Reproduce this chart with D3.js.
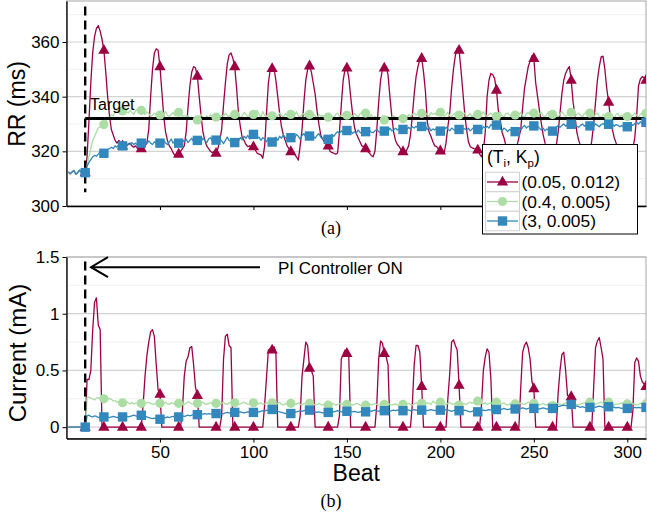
<!DOCTYPE html>
<html><head><meta charset="utf-8">
<script src="https://cdn.jsdelivr.net/npm/d3@7"></script>
<style>
body{margin:0;background:#fff}
</style>
</head><body>
<svg id="c" width="647" height="520" font-family="'Liberation Sans', Arial, Helvetica, sans-serif"></svg>
<script>
// ---------------- data ----------------
const beats = d3.range(1, 311); // beat index 1..310
const markerBeats = [10,20,30,40,50,60,70,80,90,100,110,120,130,140,150,160,170,180,190,200,210,220,230,240,250,260,270,280,290,300,310];
const seriesNames = ["(0.05, 0.012)", "(0.4, 0.005)", "(3, 0.005)"];
const seriesColors = ["#9E0142", "#ABDDA4", "#3288BD"];
const xTicks = [50,100,150,200,250,300];
const rrTicks = [300,320,340,360];
const rrMinor = [310,330,350,370];
const curTicks = [0,0.5,1,1.5];
const curTickLabels = ["0","0.5","1","1.5"];
const curMinor = [0.25,0.75,1.25];
const targetRR = 332;
const controllerOnBeat = 10;

const rrRed = [312.5,311.8,312.4,313.0,311.6,312.2,313.1,312.0,311.5,312.2,
318,331,345,356,362,365,366,364,361,357,
349,340,333,328,326,324,323,324,323,322,
323,322,322.5,323,322,321.5,322,321,321.5,321,
321,322,323,328,340,350,356,357.5,357,351,
342,333,327,324,322,321,319.5,318.5,319,319,
320,321,322,327,336,344,349,351,350.5,347.5,
340,333,327,324,322,321,320,319.5,320,319.3,
321,324,328,337,345,352,355.3,356,354,351,
343,334,329,325,324,322.5,321.7,322,321.5,321.7,
320.5,319.3,319,318.7,317.5,322,334,345,350,350.3,
350.4,346,340,334,329,326,324,322,321,319.9,
319.5,319,318,316.8,322,328,338,346,350,351.3,
349,345,341,335,330,326,324.5,323.5,322.5,322,
320,319.5,319.3,319,319.3,327,337,346,350,350.5,
347,340,334,329,326.5,325,323.5,322,321.7,321,
320,319.4,318.5,318,320,328,338,346,350,350.5,
351,348,340,333,327,324,322.5,321.7,320.5,319.9,
319,320.5,322,326,333,341,347.3,351,353.5,354,
349,342,331,327,325.4,323.5,322,321.7,320.8,320.2,
319.5,319.3,323,329,334,343,350,355,357.7,357,
350,342,334,328,323.5,321.7,321.3,321,320.8,320.5,
319,318,320,327,340,346,348.5,348,346.7,342.4,
335,331.5,327,325,322.3,320,318.5,318,318.5,320,
322,325,328,336,343,347,351,353,355,354,
345,340,335,330.3,326,323,321,319.5,318.5,318,
319,322,327,334,341,346,348.5,350,351,346,
338,333,327,324,322,320,319,318.5,318.5,319,
324,330,338,346,351,354.6,354.8,350,343,338,
332,328,325,323,321,319.5,318.5,318,318,318.5,
319.5,320,321,325,333,344,346.5,347.3,347,346];

const rrGreen = [312.5,311.8,312.4,313.0,311.6,312.2,313.1,312.0,311.5,312.2,
315,318,321,324,325.5,327,328.5,329,329.5,329.8,
331,332.5,332,333.5,333,334.5,335,334.5,335.2,334.8,
335.5,334.5,334,335,334.2,333.5,334.8,335.3,334.5,335,
334.2,333.5,334.5,333.8,332.8,333.2,334,333.5,332.8,333.3,
332.5,333.8,334.5,333.2,332.8,333.5,334.2,333,333.8,334.3,
333.5,332.8,333.2,332.5,333,331.8,332.5,331.5,332.2,331.5,
332.8,333.5,332.5,331.8,333,332.2,333.5,332.8,333.2,332.5,
333.8,332.5,333.2,332.8,334,333.2,332.5,333.8,333,333.5,
332.8,333.5,332.2,333,334.2,333.5,332.8,333.2,334,333.5,
333,335,333.5,332.5,334.5,333.2,332.8,333.8,332.5,333,
333.5,332.2,333,334,333.2,332.5,333.8,333.2,334,333.5,
332.8,333.2,334.5,333,332.5,333.5,333.8,332.8,333.2,333.5,
332.5,333.8,333,332.2,333.5,332.8,333.2,332,332.8,332.5,
333.5,332.8,332.2,333.5,334,332.8,333.2,333.5,332.5,333.2,
332.5,333.5,332.8,333.8,333.2,332.5,333.8,334.2,333.2,334,
333.2,332.5,333.5,332,332.8,331.8,332.5,331.5,332.2,331.5,
332.2,332.8,331.8,332.5,333,332.2,331.5,332.5,331.8,332,
332.8,332.2,333.5,332.8,333.5,334,333.2,333.8,334.5,333.9,
333.2,334,333.5,332.8,334.2,333.5,334,333.2,334.8,334.3,
333.5,332.8,333.5,334.2,333,332.8,333.5,334,333.2,333.3,
332.8,333.5,334,332.5,333.2,333.8,332.5,333.5,334.2,333.5,
332.8,333.5,334.5,333.2,332.8,333.5,334,333.2,332.5,332.8,
333.5,334.2,333,332.5,333.8,334,333.2,332.8,333.5,333.3,
332.8,333.5,334.2,333,332.5,333.8,334.2,333.5,334,334,
333.2,332.5,333.8,334.2,333,332.8,333.5,334.5,333.2,333.5,
334,333.2,332.5,333.8,334.5,333.5,332.8,333.5,334.5,334.3,
333.5,332.8,333.5,334,333.2,332.5,333.8,334.2,333.5,334,
333.2,332.5,333.5,334,333,332.2,333.5,333,332.5,332.7,
333.5,332.8,332.2,333.5,333.8,332.5,333.2,332.5,333,332.7,
333.5,332.8,333.2,334,333.2,332.5,333.5,334,333.5,333.9];

const rrBlue = [312.5,311.8,312.4,313.0,311.6,312.2,313.1,312.0,311.5,312.2,
314.5,316,317,318,318.5,318.2,319,320,319.5,319.3,
320,320.5,321,321.5,321,322,321.5,322.5,322,322,
322.5,321.8,322.8,322.5,323.2,322.5,323,322.2,323.5,323,
322.5,323.5,322.8,323.8,323,322.5,323.5,323,322.5,323,
323.5,324,323,322.5,323.5,324.5,323,323.8,324,323,
323.5,324.2,323.5,324.5,323.2,324,324.8,323.5,324.5,324,
324.5,323.5,324.8,324,323.2,324.5,325,323.8,324.5,324.1,
323.5,324.5,323.8,322.8,324,325.2,324,323.5,324.2,323.2,
324.5,323.8,325,324.2,325.5,324.8,325.8,324.5,325.5,326.2,
325.5,324.8,325.2,324,325,324.5,323.5,325,324,323.4,
324.5,325.2,324,325.5,324.8,326,325.2,324.5,325.5,325,
325.8,324.8,326.2,325.5,324.5,325.8,326.5,325.2,326,325.6,
326.2,325.5,324.8,325.8,326.5,325.2,324.5,325.5,324.8,324.4,
325.5,326.2,325.5,326.5,327.2,326.5,327.5,326.8,327.2,327.6,
326.8,327.5,326.5,327.2,326.5,327.8,327,326.5,327.5,327.2,
326.5,327.8,327,326.8,327.5,328,327.2,326.8,327.8,327.4,
328,327.2,328.5,327.5,327.8,328.5,327.8,328.2,327.5,328,
328.5,327.8,328.8,328.2,329,328.5,329.2,328.5,329.5,329.1,
328.5,329.2,328,328.8,327.5,328.2,327.8,328.5,327.5,327.4,
328.2,327.8,328.8,328.2,327.5,328.5,328,327.5,328.5,328,
327.5,328.5,328.2,327.8,328.5,327.5,328.2,328.8,328,328,
328.5,327.8,329,328.5,329.2,328.5,329.8,329.2,330,329.6,
328.8,328.2,327.5,328.5,328,327.2,328,327.5,326.8,327.2,
328,328.5,327.8,328.8,329.5,328.5,329.2,328.8,329.5,329.3,
328.5,329.2,328.5,327.8,328.5,327.5,328.2,327.5,328,327.4,
328.2,328.8,329.5,328.8,329.5,330,329.2,329.8,330.2,329.9,
329.5,330,329.2,328.8,329.5,330,329.2,329.8,329.5,329.3,
329.8,329.2,330,329.5,329,329.8,330.2,329.5,330,329.9,
329.5,330,329.2,329.8,329.5,329,329.5,328.8,329.2,329,
329.5,330,329.5,330.2,330.5,330,330.8,330.2,330.5,330.6];

const curRed = [0,0,0,0,0,0,0,0,0,0,
0.42,0.42,0.5,0.85,1.1,1.14,0.9,0.86,0,0,
0,0,0,0,0,0,0,0,0,0,
0,0,0,0,0,0,0,0,0,0,
0.2,0.45,0.63,0.75,0.84,0.86,0.8,0.55,0.33,0.29,
0,0,0,0,0,0,0,0,0,0,
0,0.15,0.45,0.58,0.62,0.7,0.71,0.55,0.35,0.28,
0,0,0,0,0,0,0,0,0,0,
0,0,0.1,0.6,0.8,0.82,0.72,0.7,0,0,
0,0,0,0,0,0,0,0,0,0,
0,0,0,0,0,0.2,0.44,0.68,0.69,0.68,
0.71,0.66,0,0,0,0,0,0,0,0,
0,0,0,0,0.1,0.45,0.6,0.75,0.72,0.52,
0.5,0.45,0,0,0,0,0,0,0,0,
0,0,0,0,0,0.1,0.6,0.64,0.68,0.65,
0.62,0,0,0,0,0,0,0,0,0,
0,0,0,0,0,0.2,0.6,0.76,0.74,0.65,
0.62,0.55,0,0,0,0,0,0,0,0,
0,0,0,0,0.2,0.55,0.72,0.72,0.66,0.36,
0,0,0,0,0,0,0,0,0,0,
0,0,0,0.25,0.47,0.75,0.77,0.72,0.68,0.37,
0,0,0,0,0,0,0,0,0,0,
0,0.2,0.5,0.62,0.69,0.66,0.43,0,0,0,
0,0,0,0,0,0,0,0,0,0,
0,0,0.35,0.66,0.72,0.75,0.7,0.6,0.4,0.34,
0,0,0,0,0,0,0,0,0,0,
0,0,0.3,0.5,0.64,0.66,0.5,0.28,0.27,0.27,
0,0,0,0,0,0,0,0,0,0,
0,0.35,0.7,0.76,0.79,0.7,0.6,0,0,0,
0,0,0,0,0,0,0,0,0,0,
0,0,0.15,0.57,0.61,0.58,0.45,0.4,0.38,0.36];

const curGreen = [0,0,0,0,0,0,0,0,0,0,
0.26,0.265,0.255,0.25,0.24,0.255,0.26,0.25,0.245,0.25,
0.25,0.24,0.255,0.245,0.23,0.235,0.22,0.225,0.215,0.215,
0.22,0.225,0.215,0.205,0.22,0.205,0.21,0.215,0.205,0.21,
0.2,0.205,0.215,0.22,0.21,0.2,0.205,0.21,0.215,0.21,
0.2,0.21,0.22,0.205,0.2,0.215,0.21,0.2,0.205,0.21,
0.215,0.205,0.2,0.21,0.225,0.215,0.205,0.2,0.21,0.21,
0.2,0.215,0.22,0.205,0.2,0.21,0.215,0.205,0.2,0.21,
0.215,0.2,0.21,0.22,0.205,0.2,0.215,0.21,0.205,0.215,
0.21,0.2,0.205,0.215,0.22,0.21,0.2,0.205,0.21,0.215,
0.205,0.2,0.21,0.215,0.2,0.205,0.215,0.21,0.2,0.215,
0.205,0.2,0.21,0.22,0.2,0.195,0.205,0.21,0.2,0.21,
0.2,0.195,0.205,0.215,0.2,0.195,0.21,0.205,0.2,0.21,
0.215,0.205,0.195,0.2,0.21,0.2,0.195,0.205,0.2,0.194,
0.2,0.21,0.205,0.195,0.2,0.205,0.21,0.2,0.195,0.2,
0.205,0.2,0.195,0.2,0.21,0.205,0.195,0.19,0.2,0.194,
0.2,0.205,0.195,0.2,0.21,0.2,0.195,0.205,0.2,0.2,
0.205,0.21,0.2,0.195,0.2,0.205,0.195,0.2,0.205,0.2,
0.195,0.205,0.21,0.2,0.195,0.205,0.215,0.21,0.205,0.21,
0.2,0.205,0.215,0.21,0.2,0.23,0.215,0.205,0.21,0.22,
0.215,0.205,0.2,0.21,0.22,0.205,0.2,0.21,0.2,0.195,
0.2,0.21,0.205,0.2,0.215,0.22,0.21,0.215,0.225,0.23,
0.22,0.21,0.205,0.215,0.2,0.21,0.215,0.205,0.215,0.22,
0.21,0.2,0.205,0.215,0.2,0.195,0.205,0.2,0.21,0.205,
0.2,0.21,0.215,0.205,0.2,0.21,0.22,0.215,0.205,0.21,
0.2,0.205,0.195,0.2,0.21,0.2,0.195,0.205,0.195,0.19,
0.2,0.205,0.21,0.2,0.195,0.205,0.215,0.21,0.205,0.2,
0.205,0.21,0.2,0.195,0.205,0.21,0.215,0.22,0.215,0.22,
0.21,0.205,0.2,0.21,0.215,0.22,0.21,0.205,0.215,0.22,
0.21,0.2,0.195,0.205,0.2,0.21,0.215,0.205,0.2,0.205,
0.2,0.21,0.205,0.2,0.195,0.2,0.21,0.205,0.2,0.205];

const curBlue = [0,0,0,0,0,0,0,0,0,0,
0.1,0.105,0.095,0.09,0.1,0.095,0.085,0.09,0.095,0.09,
0.095,0.09,0.085,0.09,0.095,0.09,0.085,0.09,0.095,0.09,
0.095,0.1,0.09,0.095,0.1,0.105,0.1,0.095,0.1,0.105,
0.1,0.095,0.09,0.085,0.08,0.075,0.08,0.075,0.07,0.07,
0.075,0.08,0.085,0.09,0.085,0.09,0.095,0.09,0.085,0.09,
0.095,0.1,0.095,0.1,0.105,0.1,0.105,0.11,0.105,0.11,
0.115,0.11,0.115,0.12,0.115,0.12,0.115,0.12,0.125,0.12,
0.125,0.12,0.115,0.12,0.125,0.13,0.125,0.12,0.125,0.13,
0.125,0.13,0.135,0.13,0.125,0.13,0.135,0.13,0.125,0.13,
0.135,0.14,0.135,0.14,0.145,0.14,0.15,0.145,0.15,0.156,
0.15,0.145,0.14,0.135,0.13,0.125,0.12,0.125,0.12,0.12,
0.125,0.13,0.135,0.14,0.145,0.14,0.145,0.15,0.145,0.15,
0.145,0.14,0.135,0.13,0.135,0.13,0.125,0.13,0.135,0.13,
0.135,0.14,0.135,0.14,0.145,0.14,0.135,0.14,0.145,0.14,
0.145,0.14,0.135,0.14,0.135,0.13,0.135,0.14,0.135,0.135,
0.14,0.145,0.14,0.145,0.15,0.145,0.14,0.145,0.15,0.145,
0.15,0.145,0.14,0.145,0.15,0.145,0.15,0.145,0.14,0.145,
0.15,0.155,0.15,0.145,0.15,0.155,0.15,0.145,0.15,0.15,
0.155,0.15,0.145,0.15,0.155,0.15,0.145,0.15,0.155,0.15,
0.145,0.15,0.155,0.15,0.145,0.14,0.145,0.15,0.145,0.145,
0.14,0.145,0.15,0.145,0.14,0.135,0.14,0.145,0.14,0.135,
0.14,0.145,0.15,0.145,0.15,0.155,0.15,0.155,0.16,0.155,
0.16,0.155,0.16,0.165,0.16,0.155,0.16,0.165,0.16,0.16,
0.165,0.16,0.165,0.17,0.165,0.16,0.165,0.17,0.165,0.165,
0.17,0.165,0.16,0.165,0.17,0.165,0.16,0.165,0.17,0.165,
0.17,0.175,0.18,0.185,0.19,0.195,0.19,0.195,0.2,0.2,
0.195,0.19,0.185,0.18,0.175,0.18,0.175,0.17,0.175,0.174,
0.175,0.18,0.175,0.18,0.185,0.18,0.175,0.18,0.185,0.18,
0.185,0.18,0.175,0.17,0.175,0.17,0.165,0.17,0.165,0.165,
0.17,0.165,0.17,0.175,0.17,0.175,0.17,0.175,0.17,0.174];

// ---------------- drawing ----------------
const SANS = "'Liberation Sans', Arial, Helvetica, sans-serif";
const SERIF = "'Liberation Serif', 'Times New Roman', Times, serif";
const svg = d3.select("#c");
const X0 = 66.5, X1 = 646;
const x = d3.scaleLinear().domain([0, 310]).range([X0, X1]);
const yTop = d3.scaleLinear().domain([300, 375]).range([206, 1]);
const yBot = d3.scaleLinear().domain([-0.1, 1.5]).range([438.5, 257]);

const shapes = [
  (g, c) => g.append("path").attr("d", "M0,-6.3L5.6,3.6L-5.6,3.6Z").attr("fill", c),
  (g, c) => g.append("circle").attr("r", 4.6).attr("fill", c),
  (g, c) => g.append("rect").attr("x", -4.7).attr("y", -4.7).attr("width", 9.4).attr("height", 9.4).attr("fill", c)
];

function panel(id, y, data, major, minor, tickFmt, showXLabels) {
  const [r0, r1] = y.range();
  const g = svg.append("g");
  g.append("clipPath").attr("id", id).append("rect")
    .attr("x", X0).attr("y", r1).attr("width", X1 - X0).attr("height", r0 - r1);
  g.append("g").selectAll("line").data(minor).join("line")
    .attr("x1", X0).attr("x2", X1).attr("y1", d => y(d)).attr("y2", d => y(d))
    .attr("stroke", "#f1f1f1").attr("stroke-width", 1);
  g.append("g").selectAll("line").data(major).join("line")
    .attr("x1", X0).attr("x2", X1).attr("y1", d => y(d)).attr("y2", d => y(d))
    .attr("stroke", "#d3d3d3").attr("stroke-width", 1.2);
  g.append("rect").attr("x", X0).attr("y", r1).attr("width", X1 - X0).attr("height", r0 - r1)
    .attr("fill", "none").attr("stroke", "#a6a6a6").attr("stroke-width", 1);

  const plot = g.append("g").attr("clip-path", `url(#${id})`);
  const line = d3.line().x((d, i) => x(beats[i])).y(d => y(d));
  data.forEach((arr, k) => {
    plot.append("path").datum(arr).attr("d", line)
      .attr("fill", "none").attr("stroke", seriesColors[k]).attr("stroke-width", 1.3)
      .attr("stroke-linejoin", "round");
  });
  return {g, plot, draw: () => {
    data.forEach((arr, k) => {
      markerBeats.forEach(b => {
        const v = arr[beats.indexOf(b)];
        const mg = plot.append("g").attr("transform", `translate(${x(b)},${y(v)})`);
        shapes[k](mg, seriesColors[k]);
      });
    });
    const ya = d3.axisLeft(y).tickValues(major).tickSize(4).tickSizeOuter(0).tickPadding(3)
      .tickFormat(tickFmt);
    const yg = g.append("g").attr("transform", `translate(${X0},0)`).call(ya);
    const xa = d3.axisBottom(x).tickValues(xTicks).tickSize(4).tickSizeOuter(0).tickPadding(3);
    if (!showXLabels) xa.tickFormat("");
    const xg = g.append("g").attr("transform", `translate(0,${r0})`).call(xa);
    [yg, xg].forEach(a => {
      a.attr("font-family", SANS);
      a.select(".domain").attr("stroke", "#000").attr("stroke-width", 1.3);
      a.selectAll(".tick line").attr("stroke", "#000").attr("stroke-width", 1);
      a.selectAll(".tick text").attr("font-size", 17).attr("fill", "#000");
    });
  }};
}

// top panel
const topP = panel("clipTop", yTop, [rrRed, rrGreen, rrBlue], rrTicks, rrMinor, d3.format("d"), false);
topP.plot.append("line").attr("x1", x(controllerOnBeat)).attr("x2", X1)
  .attr("y1", yTop(targetRR)).attr("y2", yTop(targetRR)).attr("stroke", "#000").attr("stroke-width", 3);
topP.plot.append("line").attr("x1", x(controllerOnBeat)).attr("x2", x(controllerOnBeat))
  .attr("y1", yTop(373)).attr("y2", yTop(305)).attr("stroke", "#000").attr("stroke-width", 2.4)
  .attr("stroke-dasharray", "9,5");
topP.draw();
topP.g.append("text").attr("x", 90).attr("y", 110).attr("font-size", 16).text("Target");

// bottom panel
const botP = panel("clipBot", yBot, [curRed, curGreen, curBlue], curTicks, curMinor, (d, i) => curTickLabels[i], true);
botP.plot.append("line").attr("x1", x(controllerOnBeat)).attr("x2", x(controllerOnBeat))
  .attr("y1", yBot(1.46)).attr("y2", yBot(0)).attr("stroke", "#000").attr("stroke-width", 2.4)
  .attr("stroke-dasharray", "9,5");
botP.draw();
const ay = yBot(1.41);
botP.g.append("line").attr("x1", 91).attr("x2", 260).attr("y1", ay).attr("y2", ay)
  .attr("stroke", "#000").attr("stroke-width", 2);
botP.g.append("path").attr("d", `M108,${ay-10}L91,${ay}L108,${ay+10}`)
  .attr("fill", "none").attr("stroke", "#000").attr("stroke-width", 2);
botP.g.append("text").attr("x", 278).attr("y", 273.5).attr("font-size", 17).text("PI Controller ON");

// axis titles
svg.append("text").attr("transform", "translate(25,104) rotate(-90)").attr("text-anchor", "middle")
  .attr("font-size", 23).text("RR (ms)");
svg.append("text").attr("transform", "translate(26,353) rotate(-90)").attr("text-anchor", "middle")
  .attr("font-size", 24).text("Current (mA)");
svg.append("text").attr("x", (X0 + X1) / 2).attr("y", 481).attr("text-anchor", "middle")
  .attr("font-size", 23).text("Beat");

// captions
svg.append("text").attr("x", 331).attr("y", 234).attr("text-anchor", "middle")
  .attr("font-family", SERIF).attr("font-size", 18).text("(a)");
svg.append("text").attr("x", 331).attr("y", 507).attr("text-anchor", "middle")
  .attr("font-family", SERIF).attr("font-size", 18).text("(b)");

// legend
const rowH = 19.5;
const lg = svg.append("g");
lg.append("rect").attr("x", 482.5).attr("y", 144.5).attr("width", 155).attr("height", 28 + 3 * rowH + 3)
  .attr("fill", "#fff").attr("stroke", "#000").attr("stroke-width", 1);
const lt = lg.append("text").attr("x", 487).attr("y", 163).attr("font-size", 17.5);
lt.append("tspan").text("(T");
lt.append("tspan").attr("font-size", 11.5).attr("dy", 4).text("i");
lt.append("tspan").attr("dy", -4).text(", K");
lt.append("tspan").attr("font-size", 11.5).attr("dy", 4).text("p");
lt.append("tspan").attr("dy", -4).text(")");
seriesNames.forEach((name, k) => {
  const cy = 182 + k * rowH;
  lg.append("rect").attr("x", 485.5).attr("y", cy - rowH / 2).attr("width", 34).attr("height", rowH)
    .attr("fill", "#fff").attr("stroke", "#d0d0d0").attr("stroke-width", 1);
  lg.append("line").attr("x1", 487).attr("x2", 518).attr("y1", cy).attr("y2", cy)
    .attr("stroke", seriesColors[k]).attr("stroke-width", 1.3);
  const mg = lg.append("g").attr("transform", `translate(502.5,${cy})`);
  shapes[k](mg, seriesColors[k]);
  lg.append("text").attr("x", 521.5).attr("y", cy + 6.2).attr("font-size", 17.4).text(name);
});
</script>
</body></html>
